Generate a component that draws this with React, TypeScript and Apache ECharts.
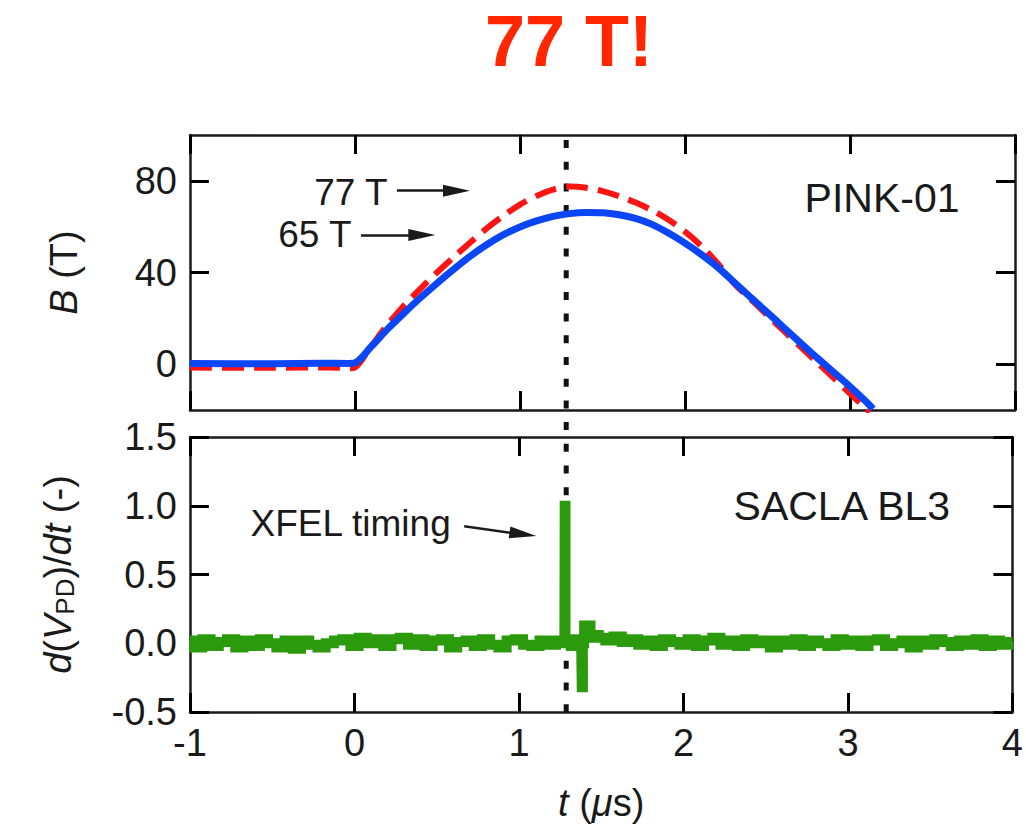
import React, { useEffect, useRef } from "react";
import * as echarts from "echarts";

const FONT = "Liberation Sans";

// axes
const tMin = -1;
const tMax = 4;
const bMin = -20;
const bMax = 100;
const bTickValues = [0, 40, 80];
const vMin = -0.5;
const vMax = 1.5;

// top panel: magnetic field B (T) vs t (us)
const field65: [number, number][] = [
  [-1, 0.3], [-0.5, 0.2], [-0.2, 0.4], [-0.05, 0.3], [0, 0.6], [0.1, 7.8],
  [0.2, 15.5], [0.3, 22.5], [0.4, 29.2], [0.5, 35.5], [0.6, 41.5],
  [0.7, 47.2], [0.8, 52.2], [0.9, 56.5], [1.0, 59.9], [1.1, 62.5],
  [1.2, 64.5], [1.3, 65.7], [1.4, 66.2], [1.5, 66.1], [1.6, 65.2],
  [1.7, 63.6], [1.8, 61.0], [1.9, 57.2], [2.0, 52.8], [2.1, 47.8],
  [2.2, 42.2], [2.3, 35.6], [2.4, 29], [2.5, 22.5], [2.6, 15.9],
  [2.7, 9.3], [2.8, 2.8], [2.9, -3.5], [3.0, -9.8], [3.1, -16.5], [3.14, -19.5],
];
const field77: [number, number][] = [
  [-1, -1.5], [-0.5, -1.6], [-0.15, -1.4], [-0.03, -1.8], [0, -1.5], [0.1, 8],
  [0.2, 17.5], [0.3, 25.8], [0.4, 33.2], [0.5, 40.2], [0.6, 46.8],
  [0.7, 53.2], [0.8, 59.4], [0.9, 64.8], [1.0, 69.6], [1.1, 73.4],
  [1.2, 76.2], [1.3, 77.5], [1.4, 77.0], [1.5, 75.5], [1.6, 73.3],
  [1.7, 70.5], [1.8, 67.2], [1.9, 63.0], [2.0, 57.8], [2.1, 51.5],
  [2.2, 43.8], [2.3, 35.0], [2.4, 28.2], [2.5, 21.3], [2.6, 14.4],
  [2.7, 7.6], [2.8, 0.8], [2.9, -6], [3.0, -12.8], [3.1, -19.6], [3.12, -21],
];

// bottom panel: photodiode derivative
const noiseStep = 0.05;
const noiseBeforeStart = -1;
const noiseBefore = [
  0.02, -0.03, 0.03, -0.02, 0.01, 0.03, -0.03, 0.02, -0.02, 0.03,
  0.0, -0.03, 0.02, -0.04, 0.02, -0.01, -0.03, 0.0, 0.02, 0.03,
  -0.02, 0.04, 0.0, 0.03, -0.02, 0.03, 0.04, -0.01, 0.03, -0.02,
  0.02, 0.03, -0.03, 0.01, 0.02, -0.02, 0.03, -0.01, -0.03, 0.02,
  0.03, -0.01, -0.02, 0.02, -0.01, 0.02,
];
const pulse: [number, number][] = [
  [1.27, 0.0], [1.276, 0.0], [1.28, 1.0], [1.286, 0.0], [1.3, 0.02],
  [1.33, -0.02], [1.36, 0.03], [1.378, 0.0], [1.385, -0.32], [1.392, 0.0],
  [1.4, 0.13], [1.43, 0.13], [1.44, 0.04], [1.47, 0.06],
];
const noiseAfterStart = 1.5;
const noiseAfter = [
  0.04, 0.02, 0.05, 0.01, 0.03, -0.01, 0.02, -0.02, 0.03, 0.01,
  -0.01, 0.03, -0.02, 0.02, 0.04, -0.01, 0.02, -0.02, 0.03, 0.0,
  0.02, -0.03, 0.02, -0.01, 0.03, -0.02, 0.02, 0.0, -0.02, 0.03,
  -0.01, 0.02, -0.02, 0.02, 0.03, -0.02, 0.0, 0.02, -0.03, 0.02,
  -0.01, 0.03, 0.01, -0.02, 0.02, -0.01, 0.03, -0.02, 0.02, -0.01,
  0.01,
];
const xfelTime = 1.28;

const signal: [number, number][] = [
  ...noiseBefore.map((v, i) => [noiseBeforeStart + i * noiseStep, v] as [number, number]),
  ...pulse,
  ...noiseAfter.map((v, i) => [noiseAfterStart + i * noiseStep, v] as [number, number]),
];

const AX = "#1a1a1a";
const axisLine = () => ({ show: true, onZero: false, lineStyle: { color: AX, width: 2.5 } });
const tick = () => ({ show: true, inside: true, length: 19, lineStyle: { color: "#000000", width: 3 } });

function xAxis(grid: number, position: string, labels: boolean, extra: any = {}) {
  return {
    type: "value",
    gridIndex: grid,
    position,
    min: tMin,
    max: tMax,
    interval: 1,
    axisLine: axisLine(),
    axisTick: tick(),
    splitLine: { show: false },
    axisLabel: {
      show: labels,
      margin: 12,
      fontSize: 38,
      color: AX,
      fontFamily: FONT,
    },
    ...extra,
  };
}

const labelStyle = (size: number) => ({ fontSize: size, color: AX, fontFamily: FONT });

function textMark(coord: [number, number], text: string, size: number) {
  return {
    coord,
    symbol: "circle",
    symbolSize: 1,
    itemStyle: { color: "rgba(0,0,0,0)" },
    label: {
      show: true,
      position: "left",
      distance: 0,
      formatter: text,
      ...labelStyle(size),
    },
  };
}
function arrowHead(coord: [number, number], rotate: number) {
  return {
    coord,
    symbol: "triangle",
    symbolSize: [12, 27],
    symbolRotate: rotate,
    itemStyle: { color: AX },
    label: { show: false },
  };
}
const shaftStyle = { color: AX, width: 2.5, type: "solid" };

export default function App() {
  const ref = useRef<HTMLDivElement>(null);
  useEffect(() => {
    const chart = echarts.init(ref.current!, null, { renderer: "svg" });
    const option: any = {
      animation: false,
      backgroundColor: "#ffffff",
      title: {
        text: "77 T!",
        left: 480,
        top: 0,
        textStyle: { fontSize: 72, fontWeight: "bold", color: "#ff2600", fontFamily: FONT },
      },
      grid: [
        { left: 190, top: 135, width: 825, height: 275 },
        { left: 190, top: 437, width: 825, height: 275 },
      ],
      xAxis: [
        xAxis(0, "bottom", false),
        xAxis(0, "top", false),
        xAxis(1, "bottom", true, {
          name: "{i|t} ({i|\u03bc}s)",
          nameLocation: "middle",
          nameGap: 72,
          nameTextStyle: {
            ...labelStyle(38),
            rich: { i: { ...labelStyle(38), fontStyle: "italic" } },
          },
        }),
        xAxis(1, "top", false),
      ],
      yAxis: [
        {
          type: "value",
          gridIndex: 0,
          position: "left",
          min: bMin,
          max: bMax,
          interval: 20,
          axisLine: axisLine(),
          axisTick: { ...tick(), customValues: bTickValues },
          splitLine: { show: false },
          axisLabel: { margin: 13, customValues: bTickValues, ...labelStyle(38) },
          name: "{i|B} (T)",
          nameLocation: "middle",
          nameRotate: 90,
          nameGap: 107,
          nameTextStyle: {
            ...labelStyle(38),
            rich: { i: { ...labelStyle(38), fontStyle: "italic" } },
          },
        },
        {
          type: "value",
          gridIndex: 0,
          position: "right",
          min: bMin,
          max: bMax,
          interval: 20,
          axisLine: axisLine(),
          axisTick: { ...tick(), customValues: bTickValues },
          splitLine: { show: false },
          axisLabel: { show: false, customValues: bTickValues },
        },
        {
          type: "value",
          gridIndex: 1,
          position: "left",
          min: vMin,
          max: vMax,
          interval: 0.5,
          axisLine: axisLine(),
          axisTick: tick(),
          splitLine: { show: false },
          axisLabel: {
            margin: 13,
            formatter: (v: number) => v.toFixed(1),
            ...labelStyle(38),
          },
          name: "{i|d}({i|V}{s|PD})/{i|dt} (-)",
          nameLocation: "middle",
          nameRotate: 90,
          nameGap: 112,
          nameTextStyle: {
            ...labelStyle(38),
            rich: {
              i: { ...labelStyle(38), fontStyle: "italic" },
              s: { ...labelStyle(26), verticalAlign: "bottom", padding: [14, 0, 0, 0] },
            },
          },
        },
        {
          type: "value",
          gridIndex: 1,
          position: "right",
          min: vMin,
          max: vMax,
          interval: 0.5,
          axisLine: axisLine(),
          axisTick: tick(),
          splitLine: { show: false },
          axisLabel: { show: false },
        },
      ],
      series: [
        {
          name: "77 T",
          type: "line",
          xAxisIndex: 0,
          yAxisIndex: 0,
          data: field77,
          showSymbol: false,
          smooth: 0.3,
          lineStyle: { color: "#ff1414", width: 6, type: [22, 10] },
          z: 3,
        },
        {
          name: "65 T",
          type: "line",
          xAxisIndex: 0,
          yAxisIndex: 0,
          data: field65,
          showSymbol: false,
          smooth: 0.3,
          lineStyle: { color: "#0a46f5", width: 7 },
          z: 4,
          markLine: {
            silent: true,
            symbol: ["none", "none"],
            label: { show: false },
            lineStyle: shaftStyle,
            data: [
              [{ coord: [0.254, 75.7] }, { coord: [0.62, 75.7] }],
              [{ coord: [0.036, 56.4] }, { coord: [0.41, 56.4] }],
            ],
          },
          markPoint: {
            silent: true,
            data: [
              textMark([0.2, 75.1], "77 T", 37),
              textMark([-0.018, 56.4], "65 T", 37),
              textMark([3.667, 72.5], "PINK-01", 41),
              arrowHead([0.615, 75.7], -90),
              arrowHead([0.405, 56.4], -90),
            ],
          },
        },
        {
          name: "signal",
          type: "line",
          xAxisIndex: 2,
          yAxisIndex: 2,
          data: signal,
          showSymbol: false,
          step: "middle",
          lineStyle: { color: "#2b9a0c", width: 10, join: "miter" },
          z: 3,
          markLine: {
            silent: true,
            symbol: ["none", "none"],
            label: { show: false },
            lineStyle: shaftStyle,
            data: [[{ coord: [0.667, 0.851] }, { coord: [1.03, 0.79] }]],
          },
          markPoint: {
            silent: true,
            data: [
              textMark([0.588, 0.873], "XFEL timing", 37),
              textMark([3.624, 1.0], "SACLA BL3", 41),
              arrowHead([1.024, 0.793], -98),
            ],
          },
        },
      ],
    };
    chart.setOption(option);
    const x = chart.convertToPixel({ xAxisIndex: 0 }, xfelTime) as number;
    const yTop = chart.convertToPixel({ yAxisIndex: 0 }, bMax) as number;
    const yBot = chart.convertToPixel({ yAxisIndex: 2 }, vMin) as number;
    chart.setOption({
      graphic: [
        {
          type: "line",
          silent: true,
          z: 1,
          shape: { x1: x, y1: yTop + 5, x2: x, y2: yBot },
          style: { stroke: "#111", lineWidth: 5, lineDash: [8, 13.7] },
        },
      ],
    });
    return () => chart.dispose();
  }, []);
  return (
    <div
      ref={ref}
      style={{ position: "fixed", left: 0, top: 0, width: 1026, height: 832, background: "#fff" }}
    />
  );
}
